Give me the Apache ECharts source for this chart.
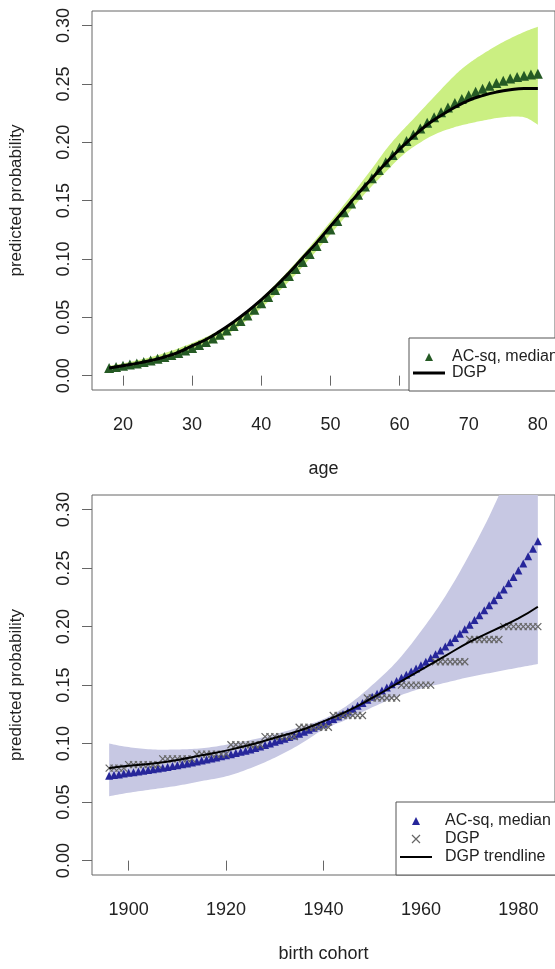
<!DOCTYPE html>
<html>
<head>
<meta charset="utf-8">
<script src="https://cdn.jsdelivr.net/npm/echarts@6/dist/echarts.min.js"></script>
<style>
html, body { margin: 0; padding: 0; background: #fff; }
#chart { width: 555px; height: 969px; }
</style>
</head>
<body>
<div id="chart"></div>
<script>
// top panel: age
var ages = [18, 19, 20, 21, 22, 23, 24, 25, 26, 27, 28, 29, 30, 31, 32, 33, 34, 35, 36, 37, 38, 39,
	40, 41, 42, 43, 44, 45, 46, 47, 48, 49, 50, 51, 52, 53, 54, 55, 56, 57, 58, 59,
	60, 61, 62, 63, 64, 65, 66, 67, 68, 69, 70, 71, 72, 73, 74, 75, 76, 77, 78, 79, 80];
var ageMedian = [.0065, .0075, .0085, .0095, .0105, .0117, .0130, .0144, .0159, .0176, .0195, .0215,
	.0237, .0262, .0289, .0318, .0350, .0386, .0425, .0468, .0515, .0565,
	.0620, .0675, .0735, .0795, .0855, .0915, .0975, .1042, .1110, .1180,
	.1252, .1325, .1400, .1475, .1550, .1622, .1692, .1762, .1828, .1892,
	.1952, .2010, .2065, .2118, .2168, .2215, .2258, .2298, .2336, .2370,
	.2402, .2432, .2459, .2484, .2507, .2528, .2546, .2560, .2571, .2580, .2587];
var dgpAges = [18, 20, 22, 24, 26, 28, 30, 32, 34, 36, 38, 40, 42, 44, 46, 48, 50, 52, 54, 56, 58,
	60, 62, 64, 66, 68, 70, 72, 74, 76, 78, 80];
var dgpAge = [.0065, .0085, .0105, .0130, .0160, .0200, .0255, .0310, .0380, .0460, .0550, .0650,
	.0760, .0880, .1010, .1140, .1280, .1420, .1560, .1690, .1820, .1940, .2050, .2150,
	.2230, .2300, .2360, .2400, .2430, .2450, .2460, .2460];
var ageBandX = [18, 20, 25, 30, 35, 40, 45, 50, 55, 58, 60, 62, 65, 68, 70, 72, 75, 78, 80];
var ageBandLow = [.0050, .0068, .0118, .0205, .0350, .0580, .0870, .1210, .1560, .1745, .1865,
	.1960, .2065, .2130, .2160, .2185, .2215, .2215, .2150];
var ageBandHigh = [.0085, .0105, .0175, .0280, .0425, .0665, .0970, .1320, .1695, .1935, .2075,
	.2200, .2390, .2575, .2675, .2755, .2860, .2945, .2990];

// bottom panel: birth cohort
var cohorts = [1896, 1897, 1898, 1899, 1900, 1901, 1902, 1903, 1904, 1905, 1906, 1907, 1908, 1909,
	1910, 1911, 1912, 1913, 1914, 1915, 1916, 1917, 1918, 1919, 1920, 1921, 1922, 1923, 1924,
	1925, 1926, 1927, 1928, 1929, 1930, 1931, 1932, 1933, 1934, 1935, 1936, 1937, 1938, 1939,
	1940, 1941, 1942, 1943, 1944, 1945, 1946, 1947, 1948, 1949, 1950, 1951, 1952, 1953, 1954,
	1955, 1956, 1957, 1958, 1959, 1960, 1961, 1962, 1963, 1964, 1965, 1966, 1967, 1968, 1969,
	1970, 1971, 1972, 1973, 1974, 1975, 1976, 1977, 1978, 1979, 1980, 1981, 1982, 1983, 1984];
var cohortMedian = [.0725, .0731, .0737, .0744, .0750, .0756, .0762, .0768, .0774, .0780, .0787,
	.0794, .0801, .0808, .0815, .0823, .0831, .0839, .0847, .0855, .0864, .0873, .0882, .0891,
	.0900, .0910, .0920, .0930, .0940, .0950, .0962, .0975, .0988, .1001, .1015, .1028, .1042,
	.1056, .1070, .1085, .1101, .1118, .1135, .1152, .1170, .1190, .1210, .1231, .1253, .1275,
	.1299, .1323, .1348, .1374, .1400, .1426, .1453, .1480, .1507, .1535, .1562, .1589, .1616,
	.1643, .1670, .1700, .1731, .1763, .1796, .1830, .1866, .1902, .1939, .1977, .2015, .2056,
	.2097, .2139, .2182, .2225, .2270, .2318, .2370, .2424, .2480, .2540, .2602, .2665, .2730];
var cohortDgp = [.079, .079, .079, .079,
	.082, .082, .082, .082, .082, .082, .082,
	.087, .087, .087, .087, .087, .087, .087,
	.091, .091, .091, .091, .091, .091, .091,
	.099, .099, .099, .099, .099, .099, .099,
	.106, .106, .106, .106, .106, .106, .106,
	.114, .114, .114, .114, .114, .114, .114,
	.124, .124, .124, .124, .124, .124, .124,
	.139, .139, .139, .139, .139, .139, .139,
	.150, .150, .150, .150, .150, .150, .150,
	.170, .170, .170, .170, .170, .170, .170,
	.189, .189, .189, .189, .189, .189, .189,
	.200, .200, .200, .200, .200, .200, .200, .200];
var trendYears = [1896, 1900, 1905, 1910, 1915, 1920, 1925, 1930, 1935, 1940, 1945, 1950, 1955,
	1960, 1965, 1970, 1975, 1980, 1984];
var trendValues = [.079, .081, .083, .086, .090, .094, .099, .105, .111, .119, .128, .139, .151,
	.163, .175, .187, .197, .207, .217];
var cohortBandX = [1896, 1900, 1905, 1910, 1915, 1920, 1925, 1930, 1935, 1940, 1945, 1950, 1955,
	1960, 1965, 1970, 1975, 1980, 1984];
var cohortBandLow = [.055, .058, .061, .064, .068, .072, .079, .088, .099, .112, .121, .131, .140,
	.147, .152, .157, .161, .165, .168];
var cohortBandHigh = [.100, .097, .095, .095, .096, .099, .103, .108, .114, .121, .133, .150, .170,
	.196, .226, .262, .303, .352, .395];

var ageTicks = [20, 30, 40, 50, 60, 70, 80];
var cohortTicks = [1900, 1920, 1940, 1960, 1980];
var probTicks = [0, 0.05, 0.10, 0.15, 0.20, 0.25, 0.30];

var FONT = 'Liberation Sans, Arial, sans-serif';
var GREEN = '#255a24', LIGHTGREEN = '#cbef82';
var BLUE = '#26269a', LAVENDER = '#c7c8e3';
var triIcon = 'path://M5,0L10,10L0,10Z';
var xIcon = 'path://M0,0L10,10M10,0L0,10';
var line3Icon = 'path://M0,0L32,0L32,3L0,3Z';
var line2Icon = 'path://M0,0L32,0L32,2L0,2Z';

function zip(xs, ys) {
	var out = [];
	for (var i = 0; i < xs.length; i++) out.push([xs[i], ys[i]]);
	return out;
}

// catmull-rom through pixel points, sampled for a polygon edge
function smoothPts(pts) {
	var out = [];
	for (var i = 0; i < pts.length - 1; i++) {
		var p0 = pts[i - 1] || pts[i], p1 = pts[i], p2 = pts[i + 1], p3 = pts[i + 2] || pts[i + 1];
		for (var s = 0; s < 10; s++) {
			var t = s / 10, t2 = t * t, t3 = t2 * t;
			var pt = [0, 1].map(function(k) {
				return 0.5 * (2 * p1[k] + (-p0[k] + p2[k]) * t +
					(2 * p0[k] - 5 * p1[k] + 4 * p2[k] - p3[k]) * t2 +
					(-p0[k] + 3 * p1[k] - 3 * p2[k] + p3[k]) * t3);
			});
			out.push(pt);
		}
	}
	out.push(pts[pts.length - 1]);
	return out;
}

function bandSeries(idx, xs, lo, hi, color) {
	return {
		type: 'custom', xAxisIndex: idx, yAxisIndex: idx, clip: true, silent: true, z: 1,
		data: xs.map(function(x, i) { return [x, lo[i], hi[i]]; }),
		encode: { x: 0, y: [1, 2] },
		renderItem: function(params, api) {
			if (params.dataIndex !== 0) return null;
			var upper = xs.map(function(x, i) { return api.coord([x, hi[i]]); });
			var lower = xs.map(function(x, i) { return api.coord([x, lo[i]]); });
			var pts = smoothPts(upper).concat(smoothPts(lower).reverse());
			return { type: 'polygon', shape: { points: pts }, style: { fill: color } };
		}
	};
}

function xAxisOf(idx, name, min, max, ticks) {
	return {
		type: 'value', gridIndex: idx, min: min, max: max,
		name: name, nameLocation: 'middle', nameGap: 70,
		nameTextStyle: { fontSize: 18, color: '#222', fontFamily: FONT },
		axisLine: { show: false },
		splitLine: { show: false },
		axisTick: { show: true, length: 10, customValues: ticks, lineStyle: { color: '#666' } },
		axisLabel: {
			customValues: ticks, margin: 26, fontSize: 18, color: '#222', fontFamily: FONT,
			formatter: function(v) { return String(v); }
		}
	};
}
function yAxisOf(idx) {
	return {
		type: 'value', gridIndex: idx, min: -0.0123, max: 0.3125,
		name: 'predicted probability', nameLocation: 'middle', nameGap: 67,
		nameTextStyle: { fontSize: 17, color: '#222', fontFamily: FONT },
		axisLine: { show: false },
		splitLine: { show: false },
		axisTick: { show: true, length: 10, customValues: probTicks, lineStyle: { color: '#666' } },
		axisLabel: {
			customValues: probTicks, rotate: 90, margin: 19, fontSize: 18, color: '#222', fontFamily: FONT,
			formatter: function(v) { return v.toFixed(2); }
		}
	};
}

var chart = echarts.init(document.getElementById('chart'));

chart.setOption({
	animation: false,
	backgroundColor: '#fff',
	textStyle: { fontFamily: FONT },
	grid: [
		{ left: 92, top: 11, width: 466, height: 379, show: true, borderColor: '#666', borderWidth: 1 },
		{ left: 92, top: 495, width: 463, height: 380, show: true, borderColor: '#666', borderWidth: 1 }
	],
	xAxis: [
		xAxisOf(0, 'age', 15.52, 82.48, ageTicks),
		xAxisOf(1, 'birth cohort', 1892.48, 1987.52, cohortTicks)
	],
	yAxis: [yAxisOf(0), yAxisOf(1)],
	legend: [
		{
			left: 409, top: 338, orient: 'vertical', selectedMode: false,
			backgroundColor: '#fff', borderColor: '#555', borderWidth: 1,
			padding: [11, 12, 10, 4], itemGap: 0, itemWidth: 32, itemHeight: 8,
			textStyle: { fontSize: 16, color: '#222', fontFamily: FONT, padding: [0, 0, 0, 2] },
			data: [
				{ name: 'AC-sq, median', icon: triIcon, itemStyle: { color: GREEN } },
				{ name: 'DGP', icon: line3Icon, itemStyle: { color: '#000' } }
			]
		},
		{
			left: 396, top: 802, orient: 'vertical', selectedMode: false,
			backgroundColor: '#fff', borderColor: '#555', borderWidth: 1,
			padding: [11, 24, 10, 4], itemGap: 2, itemWidth: 32, itemHeight: 8,
			textStyle: { fontSize: 16, color: '#222', fontFamily: FONT, padding: [0, 0, 0, 8] },
			data: [
				{ name: 'AC-sq, median', icon: triIcon, itemStyle: { color: BLUE } },
				{ name: 'DGP', icon: xIcon, itemStyle: { color: 'none', borderColor: '#666', borderWidth: 1.2 } },
				{ name: 'DGP trendline', icon: line2Icon, itemStyle: { color: '#000' } }
			]
		}
	],
	series: [
		// top panel
		bandSeries(0, ageBandX, ageBandLow, ageBandHigh, LIGHTGREEN),
		{
			name: 'AC-sq, median', type: 'scatter', xAxisIndex: 0, yAxisIndex: 0,
			data: zip(ages, ageMedian), symbol: 'triangle', symbolSize: 10, silent: true,
			itemStyle: { color: GREEN, opacity: 1 }
		},
		{
			name: 'DGP', type: 'line', xAxisIndex: 0, yAxisIndex: 0,
			data: zip(dgpAges, dgpAge), symbol: 'none', smooth: true, silent: true,
			lineStyle: { color: '#000', width: 3 }
		},
		// bottom panel
		bandSeries(1, cohortBandX, cohortBandLow, cohortBandHigh, LAVENDER),
		{
			name: 'AC-sq, median', type: 'scatter', xAxisIndex: 1, yAxisIndex: 1,
			data: zip(cohorts, cohortMedian), symbol: 'triangle', symbolSize: 8, silent: true,
			itemStyle: { color: BLUE, opacity: 1 }
		},
		{
			name: 'DGP', type: 'scatter', xAxisIndex: 1, yAxisIndex: 1,
			data: zip(cohorts, cohortDgp), symbol: xIcon, symbolSize: 7, silent: true,
			itemStyle: { color: 'none', borderColor: '#666', borderWidth: 1.2, opacity: 1 }
		},
		{
			name: 'DGP trendline', type: 'line', xAxisIndex: 1, yAxisIndex: 1,
			data: zip(trendYears, trendValues), symbol: 'none', smooth: true, silent: true,
			lineStyle: { color: '#000', width: 2 }
		}
	]
});
</script>
</body>
</html>
